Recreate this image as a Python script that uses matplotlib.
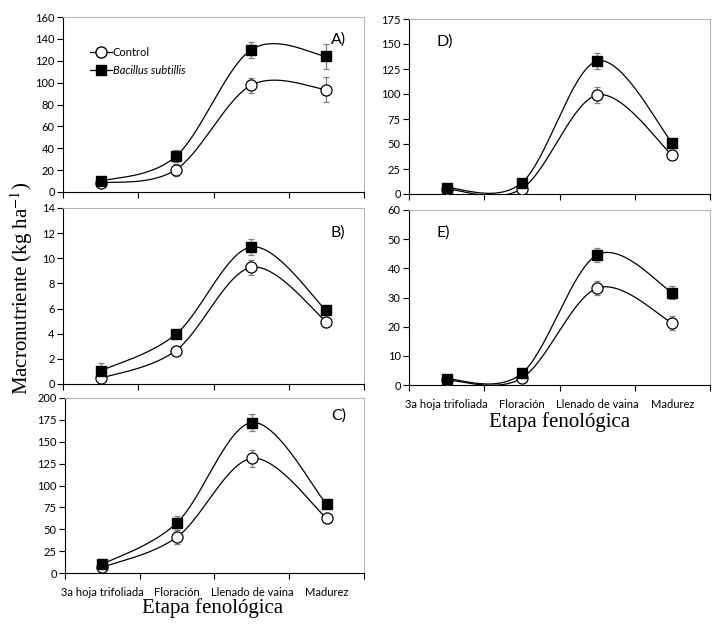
import numpy as np
import matplotlib
matplotlib.use("Agg")
import matplotlib.pyplot as plt
from matplotlib.lines import Line2D

# categories (phenological stages)
etapas = ["3a hoja trifoliada", "Floración", "Llenado de vaina", "Madurez"]

# panel A
a_control = [8.2, 20.4, 97.6, 93.6]
a_control_err = [1.0, 5.5, 7.0, 11.4]
a_bacillus = [9.8, 32.6, 130.0, 124.0]
a_bacillus_err = [1.0, 5.5, 7.3, 11.6]

# panel B
b_control = [0.45, 2.66, 9.28, 4.97]
b_control_err = [0.1, 0.2, 0.62, 0.3]
b_bacillus = [1.04, 3.96, 10.9, 5.85]
b_bacillus_err = [0.6, 0.25, 0.65, 0.3]

# panel C
c_control = [6.5, 41.2, 131.0, 62.6]
c_control_err = [1.0, 8.0, 10.0, 3.0]
c_bacillus = [9.9, 57.6, 172.0, 78.6]
c_bacillus_err = [1.0, 8.0, 9.7, 4.0]

# panel D
d_control = [5.0, 5.3, 99.0, 38.7]
d_control_err = [1.0, 1.0, 7.7, 2.0]
d_bacillus = [6.3, 11.3, 133.0, 51.0]
d_bacillus_err = [1.0, 1.5, 7.7, 2.0]

# panel E
e_control = [1.7, 2.4, 33.2, 21.2]
e_control_err = [0.3, 0.3, 2.5, 2.4]
e_bacillus = [2.05, 4.0, 44.6, 31.7]
e_bacillus_err = [0.3, 0.4, 2.4, 2.3]

TICK_FONT = ["Lato", "DejaVu Sans"]
SERIF = ["Liberation Serif", "DejaVu Serif"]


def smooth_curve(x, y, n=60):
    """Excel-like smoothed line (Catmull-Rom as cubic Bezier)"""
    pts = np.column_stack([x, y]).astype(float)
    padded = np.vstack([pts[0], pts, pts[-1]])
    t = np.linspace(0, 1, n)[:, None]
    out = []
    for i in range(1, len(padded) - 2):
        p0 = padded[i]
        p1 = padded[i + 1]
        c1 = p0 + (padded[i + 1] - padded[i - 1]) / 6
        c2 = p1 - (padded[i + 2] - padded[i]) / 6
        seg = ((1 - t) ** 3 * p0 + 3 * (1 - t) ** 2 * t * c1
               + 3 * (1 - t) * t ** 2 * c2 + t ** 3 * p1)
        out.append(seg)
    out = np.vstack(out)
    return out[:, 0], out[:, 1]


def draw_panel(ax, control, control_err, bacillus, bacillus_err,
               ymax, ystep, letter, letter_pos, show_xlabels):
    x = np.arange(len(etapas)) + 0.5
    for vals, errs in [(control, control_err), (bacillus, bacillus_err)]:
        sx, sy = smooth_curve(x, vals)
        ax.plot(sx, sy, color="black", lw=0.9, zorder=2)
        ax.errorbar(x, vals, yerr=errs, fmt="none", ecolor="#7f7f7f",
                    elinewidth=0.9, capsize=2.5, capthick=0.9, zorder=3)
    ax.plot(x, control, linestyle="", marker="o", ms=8, mfc="white",
            mec="black", mew=0.9, zorder=4)
    ax.plot(x, bacillus, linestyle="", marker="s", ms=7, mfc="black",
            mec="black", zorder=5)

    ax.set_xlim(0, 4)
    ax.set_ylim(0, ymax)
    ax.set_yticks(np.arange(0, ymax + ystep / 2, ystep))
    ax.set_xticks([0, 1, 2, 3, 4])
    ax.set_xticklabels([])
    ax.set_xticks(x, minor=True)
    if show_xlabels:
        ax.set_xticklabels(etapas, minor=True, family=TICK_FONT, fontsize=8)
    ax.tick_params(axis="x", which="minor", length=0, pad=10)
    ax.tick_params(axis="x", which="major", length=4, width=0.8, direction="out")
    ax.tick_params(axis="y", length=4, width=0.8, direction="out", pad=2)
    for lab in ax.get_yticklabels():
        lab.set_family(TICK_FONT)
        lab.set_fontsize(8)
    ax.spines["left"].set_color("black")
    ax.spines["bottom"].set_color("black")
    ax.spines["top"].set_color("#b5b5b5")
    ax.spines["right"].set_color("#b5b5b5")
    for spine in ax.spines.values():
        spine.set_linewidth(0.8)
    ax.text(letter_pos[0], letter_pos[1], letter, transform=ax.transAxes,
            family=TICK_FONT, fontsize=11.5, va="center", ha="left")


W, H = 719, 627
fig = plt.figure(figsize=(W / 100, H / 100), dpi=100)


def box(left, top, right, bottom):
    return [left / W, 1 - bottom / H, (right - left) / W, (bottom - top) / H]


ax_a = fig.add_axes(box(63, 17, 364, 192))
ax_b = fig.add_axes(box(63, 208, 364, 384))
ax_c = fig.add_axes(box(65, 398, 364, 573))
ax_d = fig.add_axes(box(409, 19, 710, 194))
ax_e = fig.add_axes(box(409, 210, 710, 385))

draw_panel(ax_a, a_control, a_control_err, a_bacillus, a_bacillus_err,
           160, 20, "A)", (0.89, 0.87), False)
draw_panel(ax_b, b_control, b_control_err, b_bacillus, b_bacillus_err,
           14, 2, "B)", (0.89, 0.86), False)
draw_panel(ax_c, c_control, c_control_err, c_bacillus, c_bacillus_err,
           200, 25, "C)", (0.89, 0.9), True)
draw_panel(ax_d, d_control, d_control_err, d_bacillus, d_bacillus_err,
           175, 25, "D)", (0.09, 0.87), False)
draw_panel(ax_e, e_control, e_control_err, e_bacillus, e_bacillus_err,
           60, 10, "E)", (0.09, 0.87), True)

# legend in panel A
handles = [
    Line2D([], [], color="black", lw=0.9, marker="o", ms=8, mfc="white", mec="black"),
    Line2D([], [], color="black", lw=0.9, marker="s", ms=7, mfc="black", mec="black"),
]
leg = ax_a.legend(handles, ["Control", "Bacillus subtillis"], loc="upper left",
                  bbox_to_anchor=(0.055, 0.885), frameon=False, handlelength=2.0,
                  handletextpad=0.1, labelspacing=0.65,
                  prop={"family": TICK_FONT, "size": 8})
leg.get_texts()[1].set_style("italic")

fig.text(22 / W, 1 - 288 / H, "Macronutriente (kg ha$^{-1}$)", rotation=90,
         ha="center", va="center", family=SERIF, fontsize=15,
         math_fontfamily="stix")
fig.text(213 / W, 1 - 608 / H, "Etapa fenológica", ha="center", va="center",
         family=SERIF, fontsize=15)
fig.text(560 / W, 1 - 422 / H, "Etapa fenológica", ha="center", va="center",
         family=SERIF, fontsize=15)

fig.savefig("out.png", dpi=100)
plt.close(fig)
